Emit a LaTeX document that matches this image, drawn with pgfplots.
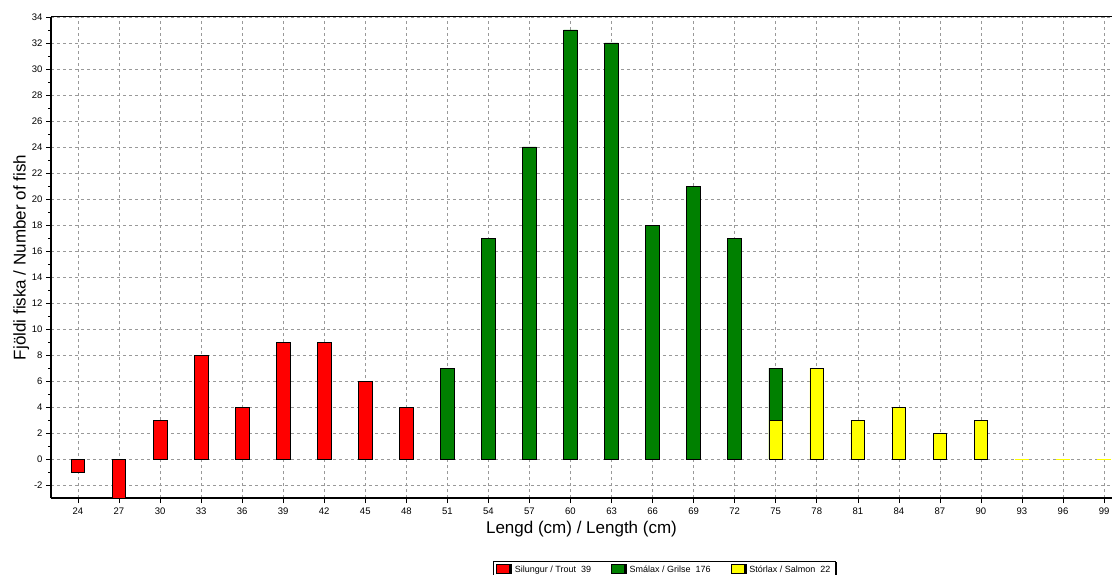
\documentclass[border=0pt]{standalone}
\usepackage{pgfplots}
\pgfplotsset{compat=1.18}
\usepackage{fontspec}
\setmainfont{Liberation Sans}
\usetikzlibrary{shadows,calc}
\definecolor{cred}{RGB}{255,0,0}
\definecolor{cgreen}{RGB}{0,128,0}
\definecolor{cyellow}{RGB}{255,255,0}
\begin{document}
\begin{tikzpicture}
\begin{axis}[
  scale only axis,
  width=1061pt, height=481pt,
  xmin=22.03, xmax=99.58,
  ymin=-3, ymax=34,
  axis x line*=bottom, axis y line*=left,
  axis line style={line width=2.2pt, -},
  xtick={24,27,...,99},
  ytick={-2,0,...,34},
  minor y tick num=1,
  tick align=outside,
  major tick length=5pt, minor tick length=3pt,
  tick style={black, line width=0.6pt},
  grid=major,
  major grid style={dashed, gray!80, line width=0.6pt},
  /pgf/number format/assume math mode=true,
  ticklabel style={font=\fontsize{9.5}{11}\selectfont},
  xticklabel style={yshift=-1pt},
  xlabel={Lengd (cm) / Length (cm)},
  ylabel={Fjöldi fiska / Number of fish},
  label style={font=\fontsize{17}{20}\selectfont},
  xlabel style={yshift=0pt},
  ylabel style={yshift=-4pt},
  ybar, bar width=1, bar shift=0pt,
  every axis plot/.append style={draw=black, line width=0.7pt},
  legend columns=3,
  legend cell align=left,
  legend style={at={(axis description cs:0.4166,-0.1315)}, anchor=north west,
    font=\fontsize{9}{10}\selectfont, draw=black, line width=0.5pt,
    fill=white, inner xsep=3pt, inner ysep=2pt,
    drop shadow={shadow xshift=2pt, shadow yshift=0pt, fill=black, opacity=1},
    /tikz/every odd column/.append style={column sep=3pt},
    /tikz/every even column/.append style={column sep=18pt}},
  legend image code/.code={\draw[#1, line width=0.6pt] (0pt,-4pt) rectangle (13pt,5pt);},
]
\addplot[fill=cred] coordinates {(24,-1) (27,-3) (30,3) (33,8) (36,4) (39,9) (42,9) (45,6) (48,4)};
\addlegendentry{Silungur / Trout\ \ 39}
\addplot[fill=cgreen] coordinates {(51,7) (54,17) (57,24) (60,33) (63,32) (66,18) (69,21) (72,17) (75,7)};
\addlegendentry{Smálax / Grilse\ \ 176}
\addplot[fill=cyellow] coordinates {(75,3) (78,7) (81,3) (84,4) (87,2) (90,3)};
\addlegendentry{Stórlax / Salmon\ \ 22}
\addplot[fill=cyellow, draw=cyellow, forget plot] coordinates {(93,0) (96,0) (99,0)};
\draw[black, line width=1pt] (rel axis cs:0,1) -- (rel axis cs:1,1);
\end{axis}
\pgfresetboundingbox
\path[use as bounding box] ($(current axis.south west)+(-51pt,-76pt)$) rectangle ($(current axis.north east)+(0pt,17pt)$);
\end{tikzpicture}
\end{document}
